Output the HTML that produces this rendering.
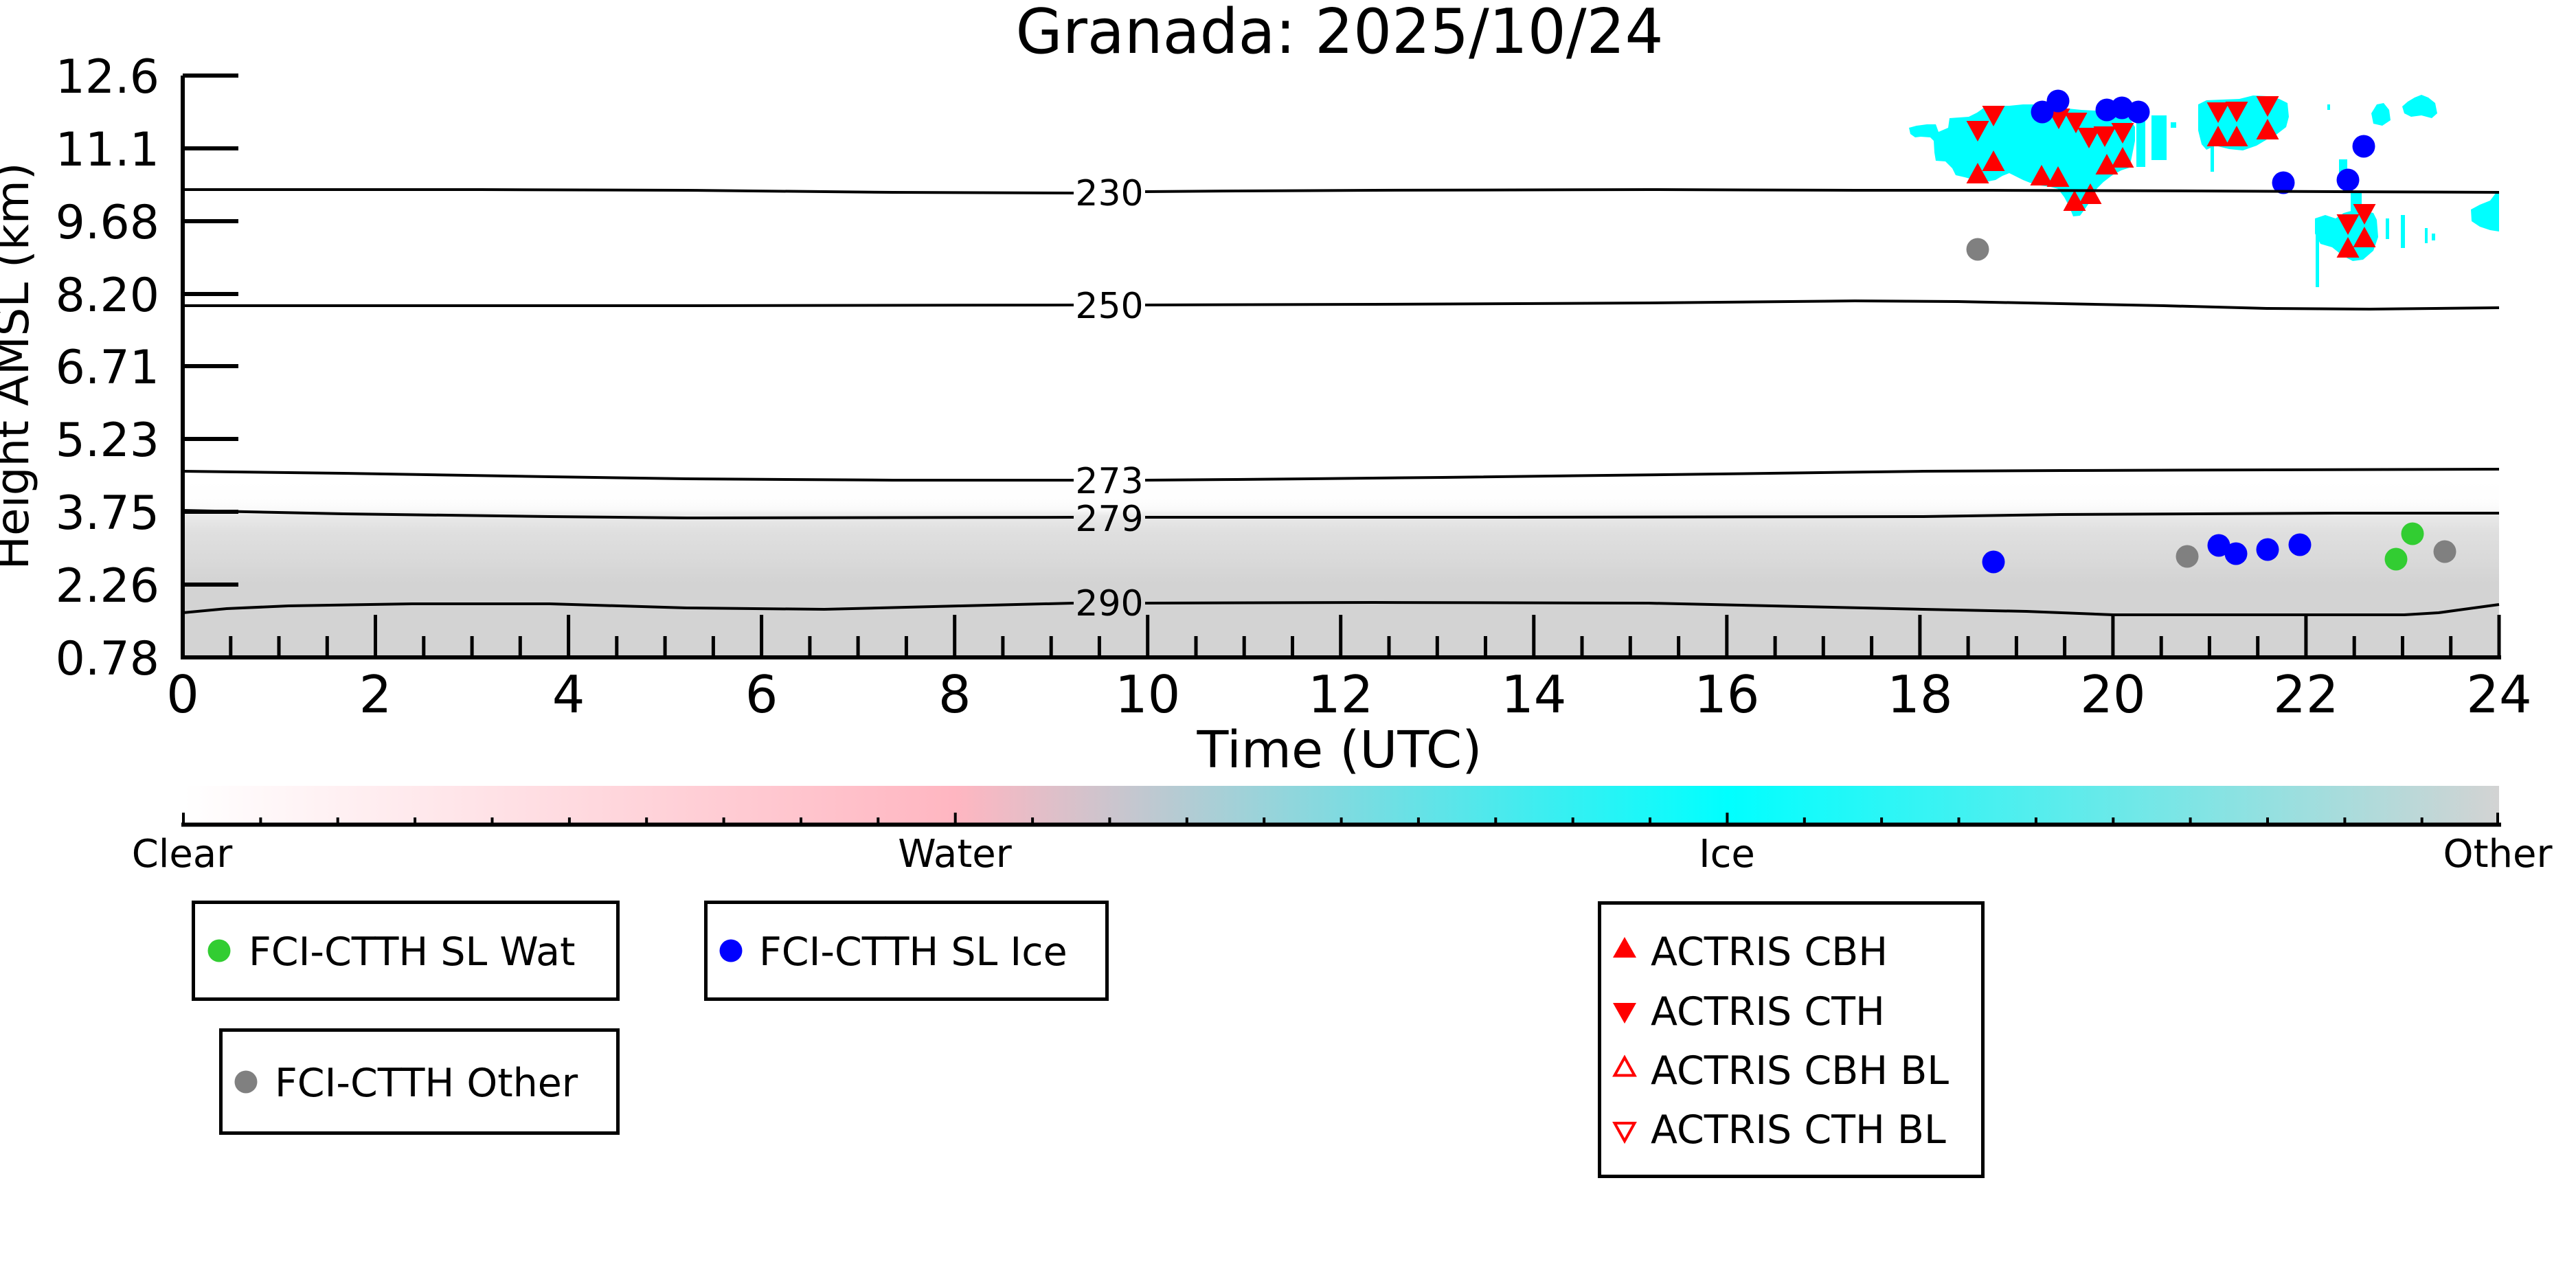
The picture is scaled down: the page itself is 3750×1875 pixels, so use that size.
<!DOCTYPE html>
<html><head><meta charset="utf-8"><style>
html,body{margin:0;padding:0;background:#fff;}
svg{display:block;}
text{font-family:"DejaVu Sans","Liberation Sans",sans-serif;fill:#000;}
</style></head><body>
<svg width="3750" height="1875" viewBox="0 0 3750 1875" xmlns="http://www.w3.org/2000/svg">
<defs>
<linearGradient id="gfade" gradientUnits="userSpaceOnUse" x1="0" y1="700" x2="0" y2="957">
<stop offset="0" stop-color="#d3d3d3" stop-opacity="0"/>
<stop offset="0.117" stop-color="#d3d3d3" stop-opacity="0.04"/>
<stop offset="0.16" stop-color="#d3d3d3" stop-opacity="0.12"/>
<stop offset="0.2" stop-color="#d3d3d3" stop-opacity="0.5"/>
<stop offset="0.29" stop-color="#d3d3d3" stop-opacity="0.72"/>
<stop offset="0.45" stop-color="#d3d3d3" stop-opacity="0.86"/>
<stop offset="0.58" stop-color="#d3d3d3" stop-opacity="1"/>
<stop offset="1" stop-color="#d3d3d3" stop-opacity="1"/>
</linearGradient>
<linearGradient id="cbar" gradientUnits="userSpaceOnUse" x1="267" y1="0" x2="3638" y2="0">
<stop offset="0" stop-color="#ffffff"/>
<stop offset="0.3333" stop-color="#ffb6c1"/>
<stop offset="0.6667" stop-color="#00ffff"/>
<stop offset="1" stop-color="#d3d3d3"/>
</linearGradient>
</defs>

<rect x="0" y="0" width="3750" height="1875" fill="#fff"/>

<!-- Title -->
<text x="1950" y="77" font-size="90" text-anchor="middle" textLength="943" lengthAdjust="spacingAndGlyphs">Granada: 2025/10/24</text>

<!-- gray "other" field -->
<rect x="266" y="700" width="3372" height="257" fill="url(#gfade)"/>

<!-- cyan ice cloud -->
<g fill="#00ffff">
<path d="M2779,186 L2790,183 L2805,181 L2818,181 L2822,192 L2836,186 L2838,172 L2852,171 L2866,170 L2878,164 L2888,157 L2905,154 L2925,154 L2945,152 L2960,152 L2980,155 L3000,157 L3030,160 L3050,161 L3080,163 L3100,172 L3108,185 L3108,205 L3104,225 L3100,244 L3088,248 L3075,255 L3062,265 L3052,275 L3045,290 L3036,303 L3028,314 L3018,315 L3012,300 L3005,287 L2996,275 L2985,272 L2970,270 L2955,266 L2945,262 L2935,257 L2925,252 L2915,256 L2905,262 L2890,265 L2875,262 L2860,258 L2847,255 L2842,245 L2832,235 L2818,234 L2816,222 L2815,205 L2810,200 L2796,199 L2788,200 L2781,195 Z"/>
<rect x="3110" y="170" width="13" height="73"/>
<rect x="3132" y="168" width="22" height="65"/>
<rect x="3160" y="178" width="8" height="8"/>
<path d="M3200,152 L3212,146 L3235,145 L3260,144 L3280,139 L3300,140 L3318,144 L3330,150 L3332,170 L3328,185 L3315,195 L3300,203 L3285,212 L3265,219 L3245,217 L3225,212 L3212,218 L3205,210 L3200,190 Z"/>
<rect x="3218" y="210" width="5" height="40"/>
<rect x="3388" y="152" width="4" height="8"/>
<path d="M3452,165 L3460,152 L3470,150 L3478,160 L3480,175 L3468,183 L3455,180 Z"/>
<path d="M3497,155 L3505,148 L3515,142 L3525,138 L3535,142 L3545,150 L3548,165 L3540,172 L3525,168 L3510,170 L3500,165 Z"/>
<rect x="3405" y="232" width="12" height="20"/>
<rect x="3422" y="278" width="16" height="34"/>
<path d="M3370,318 L3385,313 L3400,318 L3412,310 L3430,305 L3455,310 L3460,320 L3462,345 L3455,365 L3440,378 L3425,380 L3410,372 L3395,360 L3378,355 L3370,340 Z"/>
<rect x="3371" y="320" width="5" height="98"/>
<rect x="3473" y="318" width="5" height="30"/>
<rect x="3495" y="313" width="6" height="48"/>
<rect x="3530" y="332" width="4" height="22"/>
<rect x="3540" y="340" width="5" height="10"/>
<path d="M3597,305 L3610,298 L3625,292 L3634,280 L3638,280 L3638,337 L3625,335 L3610,330 L3598,322 Z"/>
</g>

<!-- ACTRIS markers -->
<g fill="#ff0000">
<path d="M2885.5,154h33l-16.5,30z"/>
<path d="M2862.5,176h33l-16.5,30z"/>
<path d="M2980.5,158h33l-16.5,30z"/>
<path d="M3005.5,164h33l-16.5,30z"/>
<path d="M3024.5,186h33l-16.5,30z"/>
<path d="M3047.5,184h33l-16.5,30z"/>
<path d="M3073.5,179h33l-16.5,30z"/>
<path d="M3212.5,149h33l-16.5,30z"/>
<path d="M3239.5,148h33l-16.5,30z"/>
<path d="M3284.5,140h33l-16.5,30z"/>
<path d="M3425.5,297h33l-16.5,30z"/>
<path d="M3401.5,312h33l-16.5,30z"/>
<path d="M2862.5,267h33l-16.5,-30z"/>
<path d="M2885.5,249h33l-16.5,-30z"/>
<path d="M2955.5,270h33l-16.5,-30z"/>
<path d="M2979.5,272h33l-16.5,-30z"/>
<path d="M3003.5,307h33l-16.5,-30z"/>
<path d="M3026.5,297h33l-16.5,-30z"/>
<path d="M3050.5,254h33l-16.5,-30z"/>
<path d="M3073.5,244h33l-16.5,-30z"/>
<path d="M3212.5,213h33l-16.5,-30z"/>
<path d="M3239.5,213h33l-16.5,-30z"/>
<path d="M3284.5,203h33l-16.5,-30z"/>
<path d="M3425.5,360h33l-16.5,-30z"/>
<path d="M3401.5,375h33l-16.5,-30z"/>
</g>

<!-- FCI-CTTH markers -->
<g fill="#0000ff">
<circle cx="2973" cy="163" r="16.5"/>
<circle cx="2996" cy="147" r="16.5"/>
<circle cx="3067" cy="160" r="16.5"/>
<circle cx="3089" cy="157" r="16.5"/>
<circle cx="3113" cy="163" r="16.5"/>
<circle cx="3441" cy="213" r="16.5"/>
<circle cx="3324" cy="266" r="16.5"/>
<circle cx="3418" cy="262" r="16.5"/>
<circle cx="2902" cy="818" r="16.5"/>
<circle cx="3230" cy="794" r="16.5"/>
<circle cx="3255" cy="806" r="16.5"/>
<circle cx="3301" cy="800" r="16.5"/>
<circle cx="3348" cy="793" r="16.5"/>
</g>
<g fill="#808080">
<circle cx="2879" cy="363" r="16.5"/>
<circle cx="3184" cy="810" r="16.5"/>
<circle cx="3559" cy="803" r="16.5"/>
</g>
<g fill="#32cd32">
<circle cx="3512" cy="777" r="16.5"/>
<circle cx="3488" cy="814" r="16.5"/>
</g>

<!-- contour lines -->
<g fill="none" stroke="#000" stroke-width="4">
<polyline points="266,276 700,276 1000,277 1300,280 1563,281"/>
<polyline points="1667,279 1800,278 2000,277 2400,276 2700,277 2900,277 3200,278 3400,279 3638,280"/>
<polyline points="266,445 1000,445 1563,444"/>
<polyline points="1667,444 2000,443 2400,441 2700,438 2850,439 3000,442 3150,445 3300,449 3450,450 3638,448"/>
<polyline points="266,686 500,689 800,694 1000,697 1300,699 1563,699"/>
<polyline points="1667,699 1800,698 2100,695 2500,690 2800,686 3000,685 3300,684 3638,683"/>
<polyline points="266,743 500,748 800,752 1000,754 1563,753"/>
<polyline points="1667,753 2200,753 2800,752 3000,749 3200,748 3400,747 3638,747"/>
<polyline points="266,892 330,886 420,882 600,879 800,879 1000,885 1200,887 1400,882 1563,878"/>
<polyline points="1667,878 2000,877 2400,878 2800,887 2950,890 3076,895 3500,895 3550,892 3638,880"/>
</g>
<g font-size="52" text-anchor="middle">
<text x="1615" y="299">230</text>
<text x="1615" y="463">250</text>
<text x="1615" y="718">273</text>
<text x="1615" y="773">279</text>
<text x="1615" y="896">290</text>
</g>

<!-- axes -->
<g stroke="#000" fill="none">
<path d="M266,110V960" stroke-width="6"/>
<path d="M263,957H3641" stroke-width="6"/>
<path d="M266,110H347 M266,216H347 M266,322H347 M266,428H347 M266,533H347 M266,639H347 M266,745H347 M266,851H347" stroke-width="6"/>
<path stroke-width="5" d="M335.8,926V957 M406,926V957 M476.3,926V957 M616.8,926V957 M687.1,926V957 M757.3,926V957 M897.8,926V957 M968.1,926V957 M1038.4,926V957 M1178.9,926V957 M1249.1,926V957 M1319.4,926V957 M1459.9,926V957 M1530.2,926V957 M1600.4,926V957 M1741,926V957 M1811.2,926V957 M1881.5,926V957 M2022,926V957 M2092.3,926V957 M2162.5,926V957 M2303,926V957 M2373.3,926V957 M2443.6,926V957 M2584.1,926V957 M2654.3,926V957 M2724.6,926V957 M2865.1,926V957 M2935.4,926V957 M3005.6,926V957 M3146.2,926V957 M3216.4,926V957 M3286.7,926V957 M3427.2,926V957 M3497.5,926V957 M3567.7,926V957"/>
<path stroke-width="5" d="M546.5,895V957 M827.6,895V957 M1108.6,895V957 M1389.7,895V957 M1670.7,895V957 M1951.7,895V957 M2232.8,895V957 M2513.8,895V957 M2794.9,895V957 M3075.9,895V957 M3356.9,895V957 M3638,895V957"/>
</g>

<!-- y tick labels -->
<g font-size="68" text-anchor="end">
<text x="232" y="135">12.6</text>
<text x="232" y="241">11.1</text>
<text x="232" y="347">9.68</text>
<text x="232" y="453">8.20</text>
<text x="232" y="558">6.71</text>
<text x="232" y="664">5.23</text>
<text x="232" y="770">3.75</text>
<text x="232" y="876">2.26</text>
<text x="232" y="982">0.78</text>
</g>
<!-- x tick labels -->
<g font-size="75" text-anchor="middle">
<text x="266" y="1037">0</text>
<text x="546.5" y="1037">2</text>
<text x="827.6" y="1037">4</text>
<text x="1108.6" y="1037">6</text>
<text x="1389.7" y="1037">8</text>
<text x="1670.7" y="1037">10</text>
<text x="1951.7" y="1037">12</text>
<text x="2232.8" y="1037">14</text>
<text x="2513.8" y="1037">16</text>
<text x="2794.9" y="1037">18</text>
<text x="3075.9" y="1037">20</text>
<text x="3356.9" y="1037">22</text>
<text x="3638" y="1037">24</text>
</g>
<text x="1950" y="1117" font-size="74" text-anchor="middle" textLength="415" lengthAdjust="spacingAndGlyphs">Time (UTC)</text>
<text transform="translate(41,533) rotate(-90)" font-size="66" text-anchor="middle" textLength="593" lengthAdjust="spacingAndGlyphs">Height AMSL (km)</text>

<!-- colorbar -->
<rect x="267" y="1144" width="3371" height="54" fill="url(#cbar)"/>
<g stroke="#000" fill="none">
<path d="M264,1200.5H3641" stroke-width="6"/>
<path stroke-width="4" d="M379.4,1190V1198 M491.7,1190V1198 M604.1,1190V1198 M716.5,1190V1198 M828.9,1190V1198 M941.2,1190V1198 M1053.6,1190V1198 M1166,1190V1198 M1278.3,1190V1198 M1503.1,1190V1198 M1615.4,1190V1198 M1727.8,1190V1198 M1840.2,1190V1198 M1952.6,1190V1198 M2064.9,1190V1198 M2177.3,1190V1198 M2289.7,1190V1198 M2402,1190V1198 M2626.8,1190V1198 M2739.1,1190V1198 M2851.5,1190V1198 M2963.9,1190V1198 M3076.3,1190V1198 M3188.6,1190V1198 M3301,1190V1198 M3413.4,1190V1198 M3525.7,1190V1198"/>
<path stroke-width="4" d="M267,1183V1198 M1390.7,1183V1198 M2514.4,1183V1198 M3636,1183V1198"/>
</g>
<g font-size="56" text-anchor="middle">
<text x="265" y="1262">Clear</text>
<text x="1390" y="1262">Water</text>
<text x="2514" y="1262">Ice</text>
<text x="3636" y="1262">Other</text>
</g>

<!-- legends -->
<g fill="#fff" stroke="#000" stroke-width="5">
<rect x="281.5" y="1313.5" width="618" height="141"/>
<rect x="1027.5" y="1313.5" width="584" height="141"/>
<rect x="321.5" y="1499.5" width="578" height="150"/>
<rect x="2328.5" y="1314.5" width="558" height="398"/>
</g>
<circle cx="319" cy="1384" r="16.5" fill="#32cd32"/>
<circle cx="1064" cy="1384" r="16.5" fill="#0000ff"/>
<circle cx="358" cy="1575" r="16.5" fill="#808080"/>
<g font-size="57">
<text x="362" y="1405">FCI-CTTH SL Wat</text>
<text x="1105" y="1405">FCI-CTTH SL Ice</text>
<text x="400" y="1596">FCI-CTTH Other</text>
<text x="2403" y="1405">ACTRIS CBH</text>
<text x="2403" y="1492">ACTRIS CTH</text>
<text x="2403" y="1578">ACTRIS CBH BL</text>
<text x="2403" y="1664">ACTRIS CTH BL</text>
</g>
<path d="M2348,1394h34l-17,-30z" fill="#ff0000"/>
<path d="M2348,1460h34l-17,30z" fill="#ff0000"/>
<path d="M2350.5,1565.5h29l-14.5,-26z" fill="#fff" stroke="#ff0000" stroke-width="4"/>
<path d="M2350.5,1635h29l-14.5,26z" fill="#fff" stroke="#ff0000" stroke-width="4"/>
</svg>
</body></html>
